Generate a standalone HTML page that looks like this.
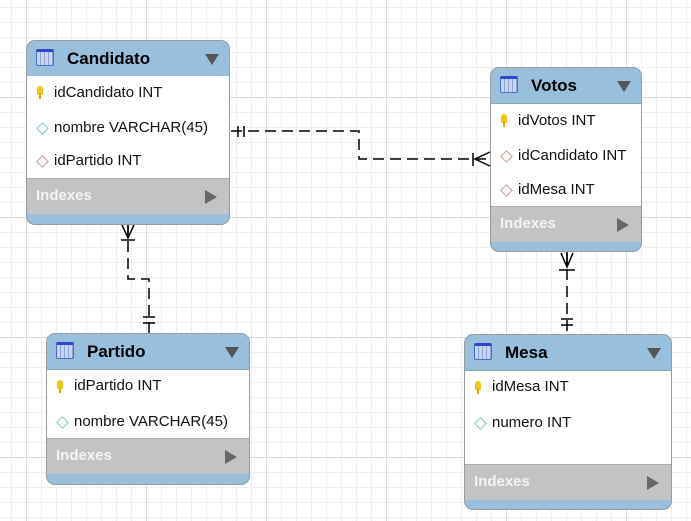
<!DOCTYPE html>
<html><head><meta charset="utf-8"><style>
html,body{margin:0;padding:0;}
body{width:691px;height:521px;position:relative;overflow:hidden;background:#fff;font-family:"Liberation Sans",sans-serif;
background-image:
linear-gradient(to right,#dcdcdc 1px,transparent 1px),
linear-gradient(to bottom,#dcdcdc 1px,transparent 1px),
linear-gradient(to right,#eeeeee 1px,transparent 1px),
linear-gradient(to bottom,#eeeeee 1px,transparent 1px);
background-size:120px 120px,120px 120px,15px 15px,15px 15px;
background-position:26px 97px,26px 97px,11px 7px,11px 7px;}
.t{position:absolute;border:1px solid #9a9a9a;border-radius:9px;overflow:hidden;background:#98bfdb;box-sizing:border-box;}
.h{position:absolute;left:0;right:0;top:0;height:35px;background:#98bfdb;border-bottom:1px solid #8aa;}
.h b{position:absolute;left:40px;top:8px;font-size:17px;color:#000;}
.ic{position:absolute;left:9px;top:8px;width:18px;height:17px;border:1px solid #4a6ad0;border-top:3px solid #2a48c8;box-sizing:border-box;
background:repeating-linear-gradient(to right,#c9d4f2 0 3px,#8fa2e0 3px 4px);border-radius:2px;}
.dd{position:absolute;right:10px;top:13px;width:0;height:0;border-left:7px solid transparent;border-right:7px solid transparent;border-top:11px solid #555;}
.b{position:absolute;left:0;right:0;background:#fff;}
.r{position:absolute;left:27px;font-size:15px;color:#111;white-space:nowrap;}
.k{position:absolute;left:10px;width:6px;height:9px;background:#f0c419;border-radius:3px 3px 1px 1px;}
.k:after{content:"";position:absolute;left:2px;top:8px;width:2px;height:5px;background:#d9a800;}
.d{position:absolute;left:11px;width:7px;height:7px;border:1.5px solid #7cc;transform:rotate(45deg);background:#fff;}
.f{border-color:#c99;}
.ix{position:absolute;left:0;right:0;height:35px;background:#c3c3c3;border-top:1px solid #aaa;}
.ix span{position:absolute;left:9px;top:8px;font-size:15px;font-weight:bold;color:#f4f4f4;}
.ix i{position:absolute;right:12px;top:11px;width:0;height:0;border-top:7px solid transparent;border-bottom:7px solid transparent;border-left:12px solid #666;}
svg{position:absolute;left:0;top:0;}
</style></head><body>

<svg width="691" height="521">
<g stroke="#000" stroke-width="1.5" fill="none">
<path d="M231 131 H359 V159 H490" stroke-dasharray="11 6"/>
<path d="M238 126 V137 M244 126 V137"/>
<path d="M473 153 V166 M490 152 L475 159 L490 166"/>
<path d="M128 224 V279 H149 V334" stroke-dasharray="11 6"/>
<path d="M122 225 L128 238 L134 225 M128 225 V238 M121 240 H135"/>
<path d="M143 317 H155 M143 323 H155"/>
<path d="M567 252 V335" stroke-dasharray="11 6"/>
<path d="M561 253 L567 267 L573 253 M567 253 V267 M559 270 H575"/>
<path d="M561 319 H573 M561 325 H573"/>
</g>
</svg>

<!-- Candidato -->
<div class="t" style="left:26px;top:40px;width:204px;height:185px;">
<div class="h"><div class="ic"></div><b>Candidato</b><div class="dd"></div></div>
<div class="b" style="top:35px;height:102px;">
<div class="k" style="top:10px"></div><div class="r" style="top:8px">idCandidato INT</div>
<div class="d" style="top:13px;top:48px"></div><div class="r" style="top:43px">nombre VARCHAR(45)</div>
<div class="d f" style="top:81px"></div><div class="r" style="top:76px">idPartido INT</div>
</div>
<div class="ix" style="top:137px;"><span>Indexes</span><i></i></div>
</div>

<!-- Votos -->
<div class="t" style="left:490px;top:67px;width:152px;height:185px;">
<div class="h"><div class="ic"></div><b>Votos</b><div class="dd"></div></div>
<div class="b" style="top:36px;height:102px;">
<div class="k" style="top:10px"></div><div class="r" style="top:8px">idVotos INT</div>
<div class="d f" style="top:48px"></div><div class="r" style="top:43px">idCandidato INT</div>
<div class="d f" style="top:82px"></div><div class="r" style="top:77px">idMesa INT</div>
</div>
<div class="ix" style="top:138px;"><span>Indexes</span><i></i></div>
</div>

<!-- Partido -->
<div class="t" style="left:46px;top:333px;width:204px;height:152px;">
<div class="h"><div class="ic"></div><b>Partido</b><div class="dd"></div></div>
<div class="b" style="top:36px;height:68px;">
<div class="k" style="top:10px"></div><div class="r" style="top:7px">idPartido INT</div>
<div class="d" style="top:48px"></div><div class="r" style="top:43px">nombre VARCHAR(45)</div>
</div>
<div class="ix" style="top:104px;"><span>Indexes</span><i></i></div>
</div>

<!-- Mesa -->
<div class="t" style="left:464px;top:334px;width:208px;height:176px;">
<div class="h"><div class="ic"></div><b>Mesa</b><div class="dd"></div></div>
<div class="b" style="top:36px;height:93px;">
<div class="k" style="top:10px"></div><div class="r" style="top:7px">idMesa INT</div>
<div class="d" style="top:48px"></div><div class="r" style="top:43px">numero INT</div>
</div>
<div class="ix" style="top:129px;"><span>Indexes</span><i></i></div>
</div>

</body></html>
